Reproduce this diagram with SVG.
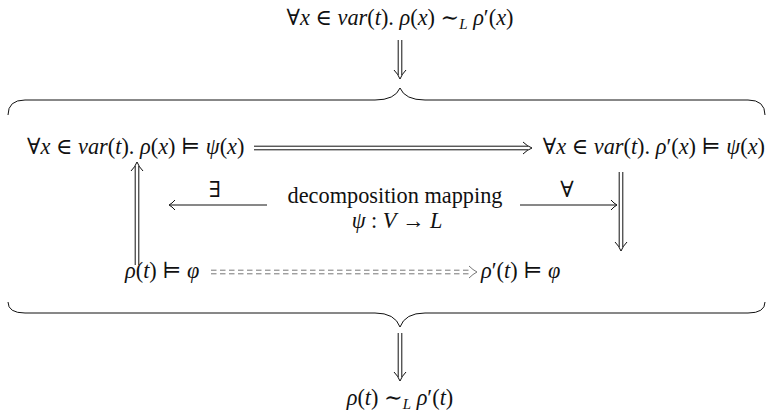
<svg xmlns="http://www.w3.org/2000/svg" width="768" height="415" viewBox="0 0 768 415">
<style>
  text { font-family: "Liberation Serif", "DejaVu Serif", serif; font-size: 22.3px; fill: #111; }
  .i { font-style: italic; }
  .sub { font-size: 15px; font-style: italic; }
  .ln { stroke: #111; stroke-width: 1; fill: none; }
  .dash { stroke: #777; stroke-width: 1; fill: none; stroke-dasharray: 5.5 3.5; }
  .hd { stroke: #111; stroke-width: 1; fill: none; }
  .hdg { stroke: #777; stroke-width: 1; fill: none; }
</style>
<rect width="768" height="415" fill="#fff"/>

<g id="top-premise">
  <text x="400" y="25" text-anchor="middle">∀<tspan class="i">x</tspan> ∈ <tspan class="i">var</tspan>(<tspan class="i">t</tspan>). <tspan class="i">ρ</tspan>(<tspan class="i">x</tspan>) ∼<tspan class="sub" dy="4">L</tspan><tspan dy="-4"> </tspan><tspan class="i">ρ</tspan>′(<tspan class="i">x</tspan>)</text>
</g>

<g id="node-rho-x-psi">
  <text x="27" y="154">∀<tspan class="i">x</tspan> ∈ <tspan class="i">var</tspan>(<tspan class="i">t</tspan>). <tspan class="i">ρ</tspan>(<tspan class="i">x</tspan>) ⊨ <tspan class="i">ψ</tspan>(<tspan class="i">x</tspan>)</text>
</g>

<g id="node-rhoprime-x-psi">
  <text x="765" y="154" text-anchor="end">∀<tspan class="i">x</tspan> ∈ <tspan class="i">var</tspan>(<tspan class="i">t</tspan>). <tspan class="i">ρ</tspan>′(<tspan class="i">x</tspan>) ⊨ <tspan class="i">ψ</tspan>(<tspan class="i">x</tspan>)</text>
</g>

<g id="node-mapping">
  <text x="395" y="203" text-anchor="middle">decomposition mapping</text>
  <text x="397" y="228" text-anchor="middle"><tspan class="i">ψ</tspan> : <tspan class="i">V</tspan> → <tspan class="i">L</tspan></text>
</g>

<g id="node-rho-t-phi">
  <text x="125" y="278"><tspan class="i">ρ</tspan>(<tspan class="i">t</tspan>) ⊨ <tspan class="i">φ</tspan></text>
</g>

<g id="node-rhoprime-t-phi">
  <text x="481" y="278"><tspan class="i">ρ</tspan>′(<tspan class="i">t</tspan>) ⊨ <tspan class="i">φ</tspan></text>
</g>

<g id="conclusion">
  <text x="400" y="405" text-anchor="middle"><tspan class="i">ρ</tspan>(<tspan class="i">t</tspan>) ∼<tspan class="sub" dy="4">L</tspan><tspan dy="-4"> </tspan><tspan class="i">ρ</tspan>′(<tspan class="i">t</tspan>)</text>
</g>

<g id="braces">
  <path class="ln" d="M8,115 Q8,100 25,100 L375,100 Q395,100 400,88 Q405,100 425,100 L748,100 Q765,100 765,115"/>
  <path class="ln" d="M8,302 Q8,313 25,313 L375,313 Q395,313 400,327 Q405,313 425,313 L748,313 Q765,313 765,302"/>
</g>

<g id="connectors">
  <path class="ln" d="M398.2,40 V75 M401.8,40 V75"/>
  <path class="hd" d="M394,70 Q398,74 400,79 Q402,74 406,70"/>
  <path class="ln" d="M398.2,333 V377 M401.8,333 V377"/>
  <path class="hd" d="M394,372 Q398,376 400,381 Q402,376 406,372"/>
  <path class="ln" d="M254,146.2 H528 M254,149.8 H528"/>
  <path class="hd" d="M523,142 Q527,146 532,148 Q527,150 523,154"/>
  <path class="ln" d="M135.2,265 V166 M138.8,265 V166"/>
  <path class="hd" d="M131,171 Q135,167 137,162 Q139,167 143,171"/>
  <path class="ln" d="M619.2,172 V247 M622.8,172 V247"/>
  <path class="hd" d="M615,242 Q619,246 621,251 Q623,246 627,242"/>
  <path class="ln" d="M267,205 H170"/>
  <path class="hd" d="M175,200 Q172,203.5 169,205 Q172,206.5 175,210"/>
  <text x="215" y="197" text-anchor="middle">∃</text>
  <path class="ln" d="M520,205 H616"/>
  <path class="hd" d="M611,200 Q614,203.5 617,205 Q614,206.5 611,210"/>
  <text x="567" y="197" text-anchor="middle">∀</text>
  <path class="dash" d="M211,270.2 H472 M211,273.8 H472"/>
  <path class="hdg" d="M469,266 Q473,270 477,272 Q473,274 469,278"/>
</g>
</svg>
